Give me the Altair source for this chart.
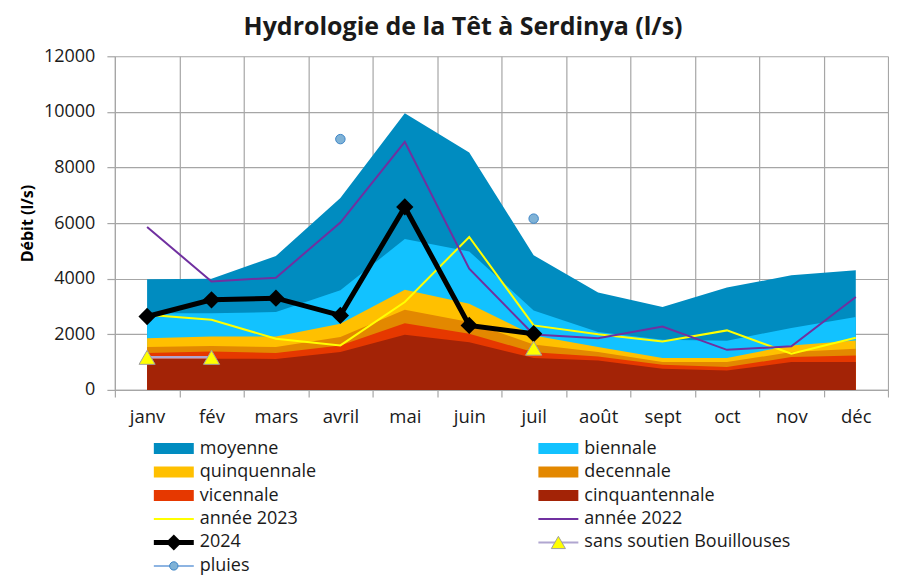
import altair as alt
import pandas as pd

months = ["janv", "fév", "mars", "avril", "mai", "juin", "juil", "août", "sept", "oct", "nov", "déc"]

moyenne = [3980, 4000, 4820, 6900, 9950, 8540, 4840, 3500, 2980, 3680, 4120, 4300]
biennale = [2760, 2760, 2800, 3580, 5430, 4980, 2860, 2080, 1800, 1770, 2230, 2620]
quinquennale = [1860, 1920, 1920, 2380, 3600, 3100, 1960, 1540, 1150, 1150, 1600, 1780]
decennale = [1540, 1580, 1540, 1900, 2880, 2440, 1630, 1360, 1000, 1000, 1360, 1480]
vicennale = [1330, 1380, 1330, 1600, 2400, 2020, 1355, 1200, 900, 820, 1180, 1240]
cinquantennale = [1115, 1120, 1115, 1360, 1980, 1715, 1150, 1060, 760, 700, 1000, 1000]
annee_2023 = [2700, 2520, 1840, 1600, 3160, 5500, 2320, 2000, 1740, 2140, 1300, 1875]
annee_2022 = [5860, 3900, 4035, 6020, 8925, 4360, 1990, 1860, 2280, 1440, 1570, 3340]
y2024 = [2640, 3240, 3300, 2680, 6580, 2320, 2020, None, None, None, None, None]
sans_soutien = [1170, 1170, None, None, None, None, 1500, None, None, None, None, None]
pluies = [None, None, None, 9020, None, None, 6160, None, None, None, None, None]

y_ticks = [0, 2000, 4000, 6000, 8000, 10000, 12000]

area_names = ["moyenne", "biennale", "quinquennale", "decennale", "vicennale", "cinquantennale"]
area_values = [moyenne, biennale, quinquennale, decennale, vicennale, cinquantennale]
area_colors = ["#008CC0", "#12C2FF", "#FFC000", "#E38800", "#E63800", "#A32306"]

legend_labels = ["moyenne", "biennale", "quinquennale", "decennale", "vicennale", "cinquantennale",
                 "année 2023", "année 2022", "2024", "sans soutien Bouillouses", "pluies"]

COL_2023 = "#FFFF00"
COL_2022 = "#7030A0"
COL_SO = "#B0A6D0"
COL_PL = "#8DB4E2"

df = pd.DataFrame({
    "mois": months,
    "moyenne": moyenne, "biennale": biennale, "quinquennale": quinquennale,
    "decennale": decennale, "vicennale": vicennale, "cinquantennale": cinquantennale,
    "a2023": annee_2023, "a2022": annee_2022, "y2024": y2024,
    "so": sans_soutien, "pluies": pluies,
})

W = 774
H = 334
FONT = "Open Sans"
GRID = "#A6A6A6"

xenc = alt.X(
    "mois:O", sort=months, bandPosition=0.5,
    scale=alt.Scale(type="band", paddingInner=0, paddingOuter=0),
    axis=alt.Axis(title=None, labelAngle=0, tickBand="extent", grid=True,
                  gridColor=GRID, gridWidth=1.2, domainColor=GRID, domainWidth=1.2,
                  tickColor=GRID, tickWidth=1.2, tickSize=7,
                  labelFontSize=18.5, labelPadding=11, labelColor="#1a1a1a", labelFont=FONT),
)


def yenc(field):
    return alt.Y(
        f"{field}:Q",
        scale=alt.Scale(domain=[0, 12000], nice=False, zero=True),
        stack=None,
        axis=alt.Axis(title="Débit (l/s)", values=y_ticks, format="d", grid=True,
                      gridColor=GRID, gridWidth=1.2, domainColor=GRID, domainWidth=1.2,
                      tickColor=GRID, tickWidth=1.2, tickSize=8,
                      labelFontSize=18, labelPadding=12, labelColor="#1a1a1a", labelFont=FONT,
                      titleFontSize=16, titleFontWeight="bold", titleFont=FONT,
                      titleColor="#000000", titlePadding=8),
    )


base = alt.Chart(df)
layers = []
for name, col in zip(area_names, area_colors):
    layers.append(base.mark_area(color=col, opacity=1, interpolate="linear").encode(x=xenc, y=yenc(name)))

layers.append(base.mark_line(color=COL_2023, strokeWidth=2).encode(x=xenc, y=yenc("a2023")))
layers.append(base.mark_line(color=COL_2022, strokeWidth=2).encode(x=xenc, y=yenc("a2022")))
layers.append(base.mark_line(color="#000000", strokeWidth=5).encode(x=xenc, y=yenc("y2024")))
layers.append(base.mark_point(shape="diamond", filled=True, color="#000000", size=300, opacity=1)
              .encode(x=xenc, y=yenc("y2024")))
layers.append(base.mark_line(color=COL_SO, strokeWidth=2.5, invalid="break-paths-filter-domains")
              .encode(x=xenc, y=yenc("so")))
layers.append(base.mark_point(shape="triangle-up", filled=True, fill="#FFFF00", stroke="#A0A0A0",
                              strokeWidth=1, size=260, opacity=1)
              .encode(x=xenc, y=yenc("so")))
layers.append(base.mark_point(shape="circle", filled=True, fill="#7FB2D6", stroke="#3D85C6",
                              strokeWidth=1, size=90, opacity=1)
              .encode(x=xenc, y=yenc("pluies")))

main = alt.layer(*layers).properties(
    width=W, height=H,
    title=alt.TitleParams("Hydrologie de la Têt à Serdinya (l/s)", fontSize=25, fontWeight="bold",
                          font=FONT, color="#1a1a1a", anchor="middle", frame="bounds", offset=7, dx=9),
)

# ---- custom legend ----
col_x = [39, 424]
row_h = 23.5
kinds = ["area"] * 6 + ["line", "line", "diamond", "triangle", "circle"]
sw_colors = area_colors + [COL_2023, COL_2022, "#000000", COL_SO, COL_PL]
rows = []
for i, (lab, kind, c) in enumerate(zip(legend_labels, kinds, sw_colors)):
    cx = col_x[i % 2]
    rows.append({
        "label": lab, "row": i // 2, "x0": cx, "x1": cx + 40, "xm": cx + 20, "xt": cx + 46,
        "color": c, "kind": kind,
        "sw": 11 if kind == "area" else (5 if kind == "diamond" else 2),
    })
ldf = pd.DataFrame(rows)

lx = alt.Scale(domain=[0, W], nice=False, zero=False)
ly = alt.Scale(domain=[-0.5, 5.5], nice=False, zero=False, reverse=True)
lbase = alt.Chart(ldf)

leg_sw = lbase.mark_rule(strokeCap="butt").encode(
    x=alt.X("x0:Q", scale=lx, axis=None), x2="x1:Q",
    y=alt.Y("row:Q", scale=ly, axis=None),
    color=alt.Color("color:N", scale=None),
    strokeWidth=alt.StrokeWidth("sw:Q", scale=None),
)
leg_dia = lbase.transform_filter(alt.datum.kind == "diamond").mark_point(
    shape="diamond", filled=True, color="#000000", size=260, opacity=1
).encode(x=alt.X("xm:Q", scale=lx, axis=None), y=alt.Y("row:Q", scale=ly, axis=None))
leg_tri = lbase.transform_filter(alt.datum.kind == "triangle").mark_point(
    shape="triangle-up", filled=True, fill="#FFFF00", stroke="#A0A0A0", strokeWidth=1, size=200, opacity=1
).encode(x=alt.X("xm:Q", scale=lx, axis=None), y=alt.Y("row:Q", scale=ly, axis=None))
leg_cir = lbase.transform_filter(alt.datum.kind == "circle").mark_point(
    shape="circle", filled=True, fill="#7FB2D6", stroke="#3D85C6", strokeWidth=1, size=70, opacity=1
).encode(x=alt.X("xm:Q", scale=lx, axis=None), y=alt.Y("row:Q", scale=ly, axis=None))
leg_txt = lbase.mark_text(align="left", baseline="middle", fontSize=18, font=FONT, color="#1a1a1a").encode(
    x=alt.X("xt:Q", scale=lx, axis=None), y=alt.Y("row:Q", scale=ly, axis=None), text="label:N"
)
legend = alt.layer(leg_sw, leg_dia, leg_tri, leg_cir, leg_txt).properties(width=W, height=6 * row_h)

chart = alt.vconcat(main, legend, spacing=10).properties(
    padding={"left": 11, "top": 7, "right": 0, "bottom": 0}
).configure(font=FONT, view=alt.ViewConfig(strokeWidth=0, stroke=None))

chart.save("out.html", embed_options={"renderer": "svg", "actions": False})
